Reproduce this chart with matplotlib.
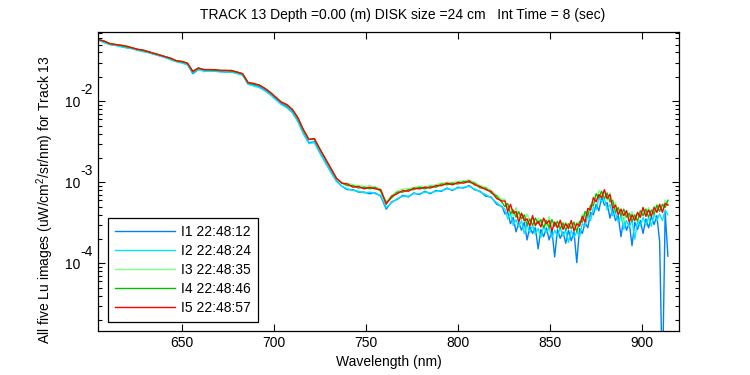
import numpy as np
import matplotlib
matplotlib.use("Agg")
import matplotlib.pyplot as plt
from matplotlib.ticker import NullFormatter, LogLocator, FixedLocator, FuncFormatter

plt.rcParams['font.family'] = ['Liberation Sans', 'DejaVu Sans']
plt.rcParams['mathtext.fontset'] = 'custom'
plt.rcParams['mathtext.rm'] = 'Liberation Sans'
plt.rcParams['mathtext.it'] = 'Liberation Sans'
plt.rcParams['font.size'] = 10

# wavelength grid (nm): 3 nm steps up to 824, 1.5 nm steps in the noisy NIR part
wavelength = np.concatenate([np.arange(605, 824.1, 3), np.arange(825.5, 914.1, 1.5)])

# log10 of Lu (uW/cm^2/sr/nm), one list per image
log_lu_i1 = [-1.25, -1.27, -1.30, -1.31, -1.32, -1.34, -1.35, -1.37, -1.38, -1.40, -1.42, -1.44, -1.46, -1.48, -1.51, -1.52, -1.54, -1.66, -1.61, -1.62,
             -1.62, -1.63, -1.63, -1.64, -1.64, -1.65, -1.67, -1.79, -1.80, -1.82, -1.86, -1.91, -1.97, -2.03, -2.07, -2.13, -2.24, -2.39, -2.51, -2.50,
             -2.63, -2.75, -2.87, -2.98, -3.05, -3.09, -3.09, -3.12, -3.12, -3.14, -3.13, -3.17, -3.33, -3.24, -3.21, -3.16, -3.18, -3.13, -3.15, -3.11,
             -3.14, -3.10, -3.11, -3.07, -3.10, -3.06, -3.07, -3.04, -3.09, -3.11, -3.17, -3.18, -3.27, -3.30,
             -3.39, -3.37, -3.51, -3.43, -3.61, -3.50, -3.59, -3.49, -3.71, -3.55, -3.63, -3.55, -3.82, -3.58, -3.67, -3.56, -3.71, -3.59, -3.92, -3.58,
             -3.69, -3.61, -3.75, -3.59, -3.72, -3.61, -3.99, -3.57, -3.63, -3.50, -3.56, -3.37, -3.40, -3.27, -3.35, -3.18, -3.28, -3.25, -3.44, -3.33,
             -3.47, -3.41, -3.67, -3.44, -3.59, -3.50, -3.78, -3.49, -3.58, -3.47, -3.63, -3.45, -3.56, -3.42, -3.52, -3.41, -3.73, -5.50, -3.37, -3.91]
log_lu_i2 = [-1.25, -1.28, -1.30, -1.31, -1.33, -1.34, -1.35, -1.37, -1.39, -1.40, -1.42, -1.44, -1.46, -1.49, -1.51, -1.53, -1.55, -1.65, -1.61, -1.63,
             -1.63, -1.63, -1.64, -1.64, -1.64, -1.66, -1.68, -1.79, -1.81, -1.83, -1.87, -1.92, -1.98, -2.04, -2.08, -2.14, -2.25, -2.40, -2.52, -2.51,
             -2.64, -2.76, -2.88, -2.99, -3.05, -3.08, -3.10, -3.11, -3.13, -3.12, -3.14, -3.16, -3.31, -3.25, -3.20, -3.17, -3.17, -3.14, -3.14, -3.12,
             -3.13, -3.11, -3.10, -3.08, -3.09, -3.07, -3.06, -3.05, -3.08, -3.12, -3.15, -3.19, -3.25, -3.31,
             -3.33, -3.45, -3.38, -3.53, -3.46, -3.55, -3.47, -3.63, -3.52, -3.62, -3.53, -3.64, -3.57, -3.68, -3.54, -3.62, -3.56, -3.68, -3.59, -3.67,
             -3.56, -3.66, -3.59, -3.74, -3.59, -3.68, -3.61, -3.67, -3.51, -3.54, -3.41, -3.47, -3.31, -3.34, -3.19, -3.24, -3.20, -3.34, -3.27, -3.41,
             -3.37, -3.49, -3.41, -3.58, -3.47, -3.55, -3.46, -3.70, -3.48, -3.54, -3.43, -3.53, -3.43, -3.54, -3.39, -3.47, -3.39, -3.47, -3.34, -3.40]
log_lu_i3 = [-1.24, -1.26, -1.29, -1.30, -1.31, -1.32, -1.34, -1.36, -1.37, -1.39, -1.41, -1.43, -1.45, -1.47, -1.50, -1.51, -1.53, -1.63, -1.59, -1.61,
             -1.61, -1.61, -1.62, -1.62, -1.62, -1.64, -1.66, -1.77, -1.78, -1.80, -1.84, -1.89, -1.95, -2.01, -2.04, -2.10, -2.20, -2.35, -2.47, -2.46,
             -2.59, -2.71, -2.83, -2.95, -3.01, -3.01, -3.03, -3.04, -3.05, -3.04, -3.06, -3.08, -3.24, -3.16, -3.11, -3.08, -3.08, -3.06, -3.05, -3.05,
             -3.04, -3.03, -3.01, -3.00, -3.00, -2.99, -2.98, -2.97, -3.00, -3.04, -3.06, -3.10, -3.16, -3.21,
             -3.21, -3.32, -3.29, -3.41, -3.31, -3.44, -3.38, -3.48, -3.39, -3.48, -3.44, -3.55, -3.44, -3.51, -3.45, -3.55, -3.42, -3.54, -3.49, -3.57,
             -3.46, -3.56, -3.49, -3.54, -3.48, -3.59, -3.49, -3.54, -3.39, -3.43, -3.32, -3.35, -3.18, -3.23, -3.10, -3.15, -3.11, -3.22, -3.13, -3.28,
             -3.25, -3.38, -3.33, -3.50, -3.35, -3.44, -3.36, -3.46, -3.39, -3.44, -3.31, -3.39, -3.31, -3.41, -3.29, -3.35, -3.29, -3.35, -3.22, -3.28]
log_lu_i4 = [-1.24, -1.26, -1.29, -1.30, -1.31, -1.33, -1.34, -1.36, -1.37, -1.39, -1.41, -1.43, -1.45, -1.47, -1.50, -1.51, -1.53, -1.64, -1.59, -1.61,
             -1.61, -1.62, -1.62, -1.62, -1.63, -1.64, -1.66, -1.77, -1.79, -1.80, -1.84, -1.89, -1.95, -2.01, -2.05, -2.10, -2.21, -2.35, -2.47, -2.47,
             -2.59, -2.71, -2.83, -2.95, -3.01, -3.04, -3.04, -3.07, -3.06, -3.08, -3.06, -3.11, -3.25, -3.19, -3.12, -3.12, -3.09, -3.09, -3.06, -3.08,
             -3.05, -3.06, -3.02, -3.03, -3.01, -3.02, -2.99, -3.00, -3.01, -3.07, -3.07, -3.13, -3.17, -3.25,
             -3.30, -3.26, -3.39, -3.34, -3.43, -3.36, -3.45, -3.40, -3.53, -3.45, -3.53, -3.44, -3.51, -3.46, -3.56, -3.47, -3.56, -3.46, -3.54, -3.48,
             -3.57, -3.50, -3.59, -3.51, -3.57, -3.49, -3.61, -3.48, -3.49, -3.36, -3.41, -3.28, -3.29, -3.14, -3.19, -3.11, -3.20, -3.13, -3.24, -3.22,
             -3.37, -3.31, -3.41, -3.33, -3.43, -3.38, -3.48, -3.40, -3.48, -3.35, -3.41, -3.33, -3.43, -3.34, -3.39, -3.28, -3.36, -3.27, -3.31, -3.22]
log_lu_i5 = [-1.24, -1.26, -1.29, -1.30, -1.31, -1.32, -1.34, -1.36, -1.37, -1.39, -1.41, -1.43, -1.45, -1.47, -1.50, -1.51, -1.53, -1.63, -1.59, -1.61,
             -1.61, -1.61, -1.62, -1.62, -1.62, -1.64, -1.66, -1.77, -1.78, -1.80, -1.84, -1.89, -1.95, -2.01, -2.04, -2.10, -2.20, -2.35, -2.47, -2.46,
             -2.59, -2.71, -2.83, -2.95, -3.01, -3.02, -3.06, -3.05, -3.08, -3.06, -3.08, -3.09, -3.27, -3.17, -3.14, -3.10, -3.11, -3.07, -3.08, -3.06,
             -3.07, -3.04, -3.04, -3.01, -3.03, -3.00, -3.01, -2.98, -3.03, -3.05, -3.09, -3.11, -3.20, -3.23,
             -3.23, -3.36, -3.27, -3.38, -3.36, -3.49, -3.38, -3.47, -3.45, -3.54, -3.41, -3.53, -3.48, -3.55, -3.44, -3.51, -3.47, -3.60, -3.49, -3.56,
             -3.47, -3.58, -3.51, -3.57, -3.47, -3.60, -3.51, -3.54, -3.42, -3.49, -3.32, -3.34, -3.19, -3.24, -3.15, -3.19, -3.09, -3.20, -3.15, -3.32,
             -3.28, -3.40, -3.33, -3.41, -3.35, -3.49, -3.40, -3.47, -3.37, -3.43, -3.31, -3.42, -3.34, -3.42, -3.31, -3.37, -3.27, -3.37, -3.26, -3.28]

labels = ['I1 22:48:12', 'I2 22:48:24', 'I3 22:48:35', 'I4 22:48:46', 'I5 22:48:57']
colors = ['#0080ff', '#00e6ff', '#80ff80', '#00c000', '#ff0000']
series = [log_lu_i1, log_lu_i2, log_lu_i3, log_lu_i4, log_lu_i5]
y_decades = [1e-2, 1e-3, 1e-4]

fig = plt.figure(figsize=(7.5, 3.75), dpi=100)
ax = fig.add_axes([0.1307, 0.1173, 0.7746, 0.7974])

for s, c, lab in zip(series, colors, labels):
    ax.plot(wavelength, 10.0 ** np.array(s), color=c, lw=1.0, label=lab)

ax.set_yscale('log')
ax.set_xlim(604.5, 920)
ax.set_ylim(1.47e-5, 0.0715)
ax.set_xticks([650, 700, 750, 800, 850, 900])
ax.yaxis.set_major_locator(FixedLocator(y_decades))
ax.yaxis.set_minor_locator(LogLocator(base=10, subs=np.arange(2, 10)))
ax.yaxis.set_minor_formatter(NullFormatter())
# MATLAB style labels: "10" with a full-size exponent next to it
ax.yaxis.set_major_formatter(FuncFormatter(lambda v, p: '10'))
for d in y_decades:
    ax.annotate('%d' % round(np.log10(d)), xy=(0, d), xycoords=('axes fraction', 'data'),
                xytext=(-13, 8), textcoords='offset points', ha='left', va='center', fontsize=10)

ax.tick_params(which='both', direction='in', top=True, right=True, width=0.8)
ax.tick_params(which='major', length=5)
ax.tick_params(which='minor', length=3)
ax.tick_params(axis='y', which='major', pad=13)
for sp in ax.spines.values():
    sp.set_linewidth(0.9)

ax.set_title('TRACK 13 Depth =0.00 (m) DISK size =24 cm   Int Time = 8 (sec)', fontsize=10, x=0.525, pad=9)
ax.set_xlabel('Wavelength (nm)')
ax.set_ylabel('All five Lu images (uW/cm$^2$/sr/nm) for Track 13')
ax.yaxis.set_label_coords(-0.073, 0.44)

leg = ax.legend(loc='lower left', bbox_to_anchor=(0.017, 0.03), borderaxespad=0, fancybox=False,
                framealpha=1, edgecolor='black', handlelength=4.3, handletextpad=0.45,
                labelspacing=0.36, borderpad=0.5, fontsize=10)
leg.get_frame().set_linewidth(0.9)

fig.savefig('out.png', dpi=100)
